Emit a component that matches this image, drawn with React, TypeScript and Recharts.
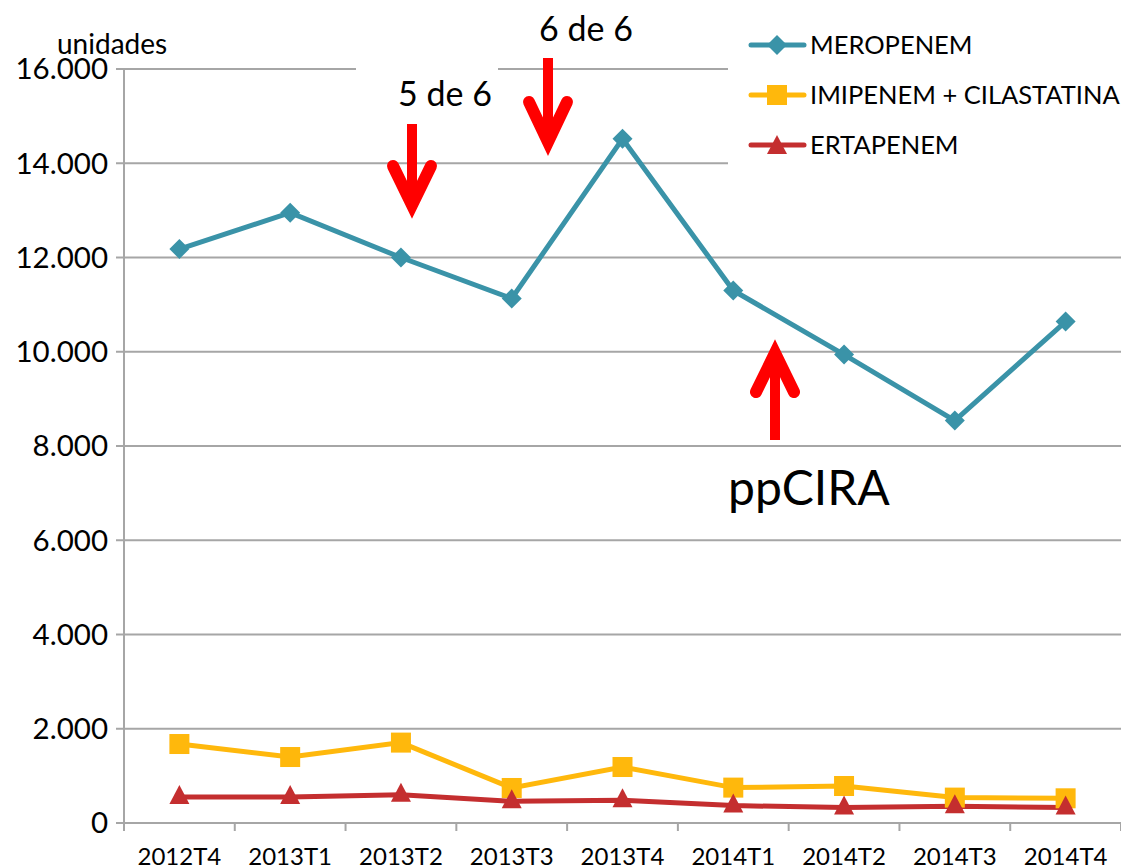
import React from 'react';
import { LineChart, Line, XAxis, YAxis, CartesianGrid } from 'recharts';

const quarters = ['2012T4', '2013T1', '2013T2', '2013T3', '2013T4', '2014T1', '2014T2', '2014T3', '2014T4'];
const meropenem = [12180, 12950, 12000, 11130, 14520, 11300, 9940, 8540, 10640];
const imipenem = [1676, 1400, 1706, 743, 1188, 751, 785, 539, 524];
const ertapenem = [552, 552, 600, 460, 482, 369, 327, 354, 327];
const yTicks = [0, 2000, 4000, 6000, 8000, 10000, 12000, 14000, 16000];

const seriesNames = ['MEROPENEM', 'IMIPENEM + CILASTATINA', 'ERTAPENEM'];
const seriesColors = ['#3A93A8', '#FFB80C', '#C42E2F'];

const data = quarters.map((q, i) => ({
  q,
  mero: meropenem[i],
  imi: imipenem[i],
  erta: ertapenem[i],
}));

const W = 1121;
const H = 867;
const Y_W = 124;
const PLOT_W = W - Y_W;
const BAND = PLOT_W / quarters.length;
const FONT = 'Lato, "Open Sans", sans-serif';
const GRID = '#A6A6A6';

const fmt = (v: number) => (v === 0 ? '0' : v.toLocaleString('de-DE'));

const diamond = (cx: number, cy: number, c: string) => {
  const r = 10;
  return <path d={`M${cx},${cy - r}L${cx + r},${cy}L${cx},${cy + r}L${cx - r},${cy}Z`} fill={c} />;
};
const square = (cx: number, cy: number, c: string) => {
  const r = 10;
  return <rect x={cx - r} y={cy - r} width={2 * r} height={2 * r} fill={c} />;
};
const triangle = (cx: number, cy: number, c: string) => (
  <path d={`M${cx},${cy - 12}L${cx + 10},${cy + 7}L${cx - 10},${cy + 7}Z`} fill={c} />
);
const markers = [diamond, square, triangle];

const makeDot = (i: number) => (props: any) => {
  const { cx, cy, index } = props;
  if (cx == null || cy == null) return <g key={`d${i}-${index}`} />;
  return <g key={`d${i}-${index}`}>{markers[i](cx, cy, seriesColors[i])}</g>;
};

const XTick = (props: any) => {
  const { x, y, payload, index } = props;
  const last = index === quarters.length - 1;
  return (
    <g>
      <line x1={x - BAND / 2} x2={x - BAND / 2} y1={y - 8} y2={y} stroke={GRID} strokeWidth={2} />
      {last && <line x1={x + BAND / 2} x2={x + BAND / 2} y1={y - 8} y2={y} stroke={GRID} strokeWidth={2} />}
      <text x={x} y={y + 34} textAnchor="middle" fontFamily={FONT} fontSize={24} fill="#000">
        {payload.value}
      </text>
    </g>
  );
};

export default function App() {
  return (
    <div style={{ position: 'absolute', left: 0, top: 0, width: W, height: H, background: '#fff', overflow: 'hidden' }}>
      <LineChart width={W} height={H} data={data} margin={{ top: 69, right: 0, bottom: 0, left: 0 }}>
        <CartesianGrid vertical={false} stroke={GRID} strokeWidth={2} />
        <XAxis
          dataKey="q"
          scale="band"
          height={44}
          tickLine={false}
          axisLine={{ stroke: GRID, strokeWidth: 2 }}
          tick={<XTick />}
          interval={0}
        />
        <YAxis
          width={Y_W}
          domain={[0, 16000]}
          ticks={yTicks}
          tickFormatter={fmt}
          tickSize={8}
          tickMargin={8}
          axisLine={{ stroke: GRID, strokeWidth: 2 }}
          tickLine={{ stroke: GRID, strokeWidth: 2 }}
          tick={{ fontFamily: FONT, fontSize: 29.5, fill: '#000' }}
        />
        <Line dataKey="mero" name={seriesNames[0]} stroke={seriesColors[0]} strokeWidth={5} dot={makeDot(0)} activeDot={false} isAnimationActive={false} />
        <Line dataKey="imi" name={seriesNames[1]} stroke={seriesColors[1]} strokeWidth={5} dot={makeDot(1)} activeDot={false} isAnimationActive={false} />
        <Line dataKey="erta" name={seriesNames[2]} stroke={seriesColors[2]} strokeWidth={5} dot={makeDot(2)} activeDot={false} isAnimationActive={false} />
      </LineChart>
      <svg width={W} height={H} style={{ position: 'absolute', left: 0, top: 0, pointerEvents: 'none' }}>
        {/* gap in top gridline behind annotation */}
        <rect x={356} y={62} width={142} height={14} fill="#fff" />
        {/* legend box */}
        <rect x={728} y={14} width={393} height={158} fill="#fff" />
        {seriesNames.map((n, i) => {
          const cy = 45 + i * 50;
          return (
            <g key={n}>
              <line x1={751} x2={804} y1={cy} y2={cy} stroke={seriesColors[i]} strokeWidth={5} strokeLinecap="round" />
              {markers[i](777, i === 2 ? cy + 2 : cy, seriesColors[i])}
              <text x={810} y={cy + 9} fontFamily={FONT} fontSize={25.5} fill="#000">{n}</text>
            </g>
          );
        })}
        <text x={57} y={54} fontFamily={FONT} fontSize={28} fill="#000">unidades</text>
        {/* 5 de 6 */}
        <text x={445} y={106} textAnchor="middle" fontFamily={FONT} fontSize={34} fill="#000">5 de 6</text>
        <line x1={412} x2={412} y1={124} y2={200} stroke="#FF0000" strokeWidth={10} />
        <polyline points="393,166 412,205 431,166" fill="none" stroke="#FF0000" strokeWidth={12} strokeLinecap="round" strokeLinejoin="miter" />
        {/* 6 de 6 */}
        <text x={586} y={41} textAnchor="middle" fontFamily={FONT} fontSize={34} fill="#000">6 de 6</text>
        <line x1={548} x2={548} y1={58} y2={138} stroke="#FF0000" strokeWidth={10} />
        <polyline points="529,102 548,142 567,102" fill="none" stroke="#FF0000" strokeWidth={12} strokeLinecap="round" strokeLinejoin="miter" />
        {/* ppCIRA */}
        <line x1={775} x2={775} y1={440} y2={360} stroke="#FF0000" strokeWidth={10} />
        <polyline points="756,392 775,353 794,392" fill="none" stroke="#FF0000" strokeWidth={12} strokeLinecap="round" strokeLinejoin="miter" />
        <text x={728} y={505} fontFamily={FONT} fontSize={48} fill="#000">ppCIRA</text>
      </svg>
    </div>
  );
}
